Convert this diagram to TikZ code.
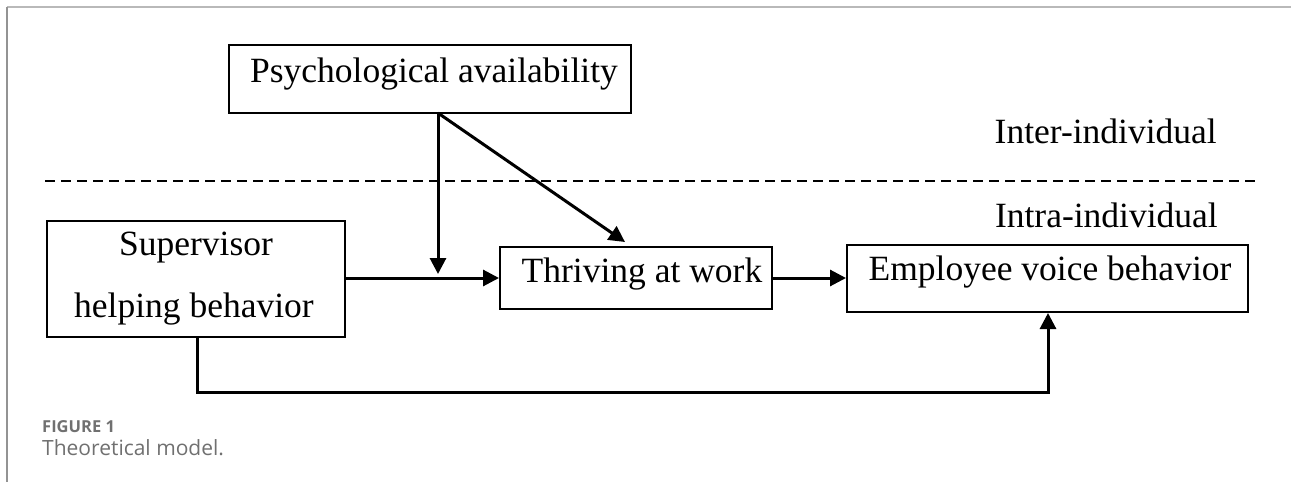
\documentclass[tikz,border=0pt]{standalone}
\usepackage{fontspec}
\setmainfont{Liberation Serif}
\newfontfamily\capfont{Open Sans}
\usetikzlibrary{arrows.meta}
\definecolor{capgray}{HTML}{707070}
\tikzset{
  box/.style={draw=black, line width=2pt, rectangle, inner sep=0pt},
  lbl/.style={inner sep=0pt, anchor=base, font=\fontsize{35.5}{40}\selectfont},
  arr/.style={line width=3pt, -{Triangle[length=16pt,width=16pt]}},
}
\begin{document}
\begin{tikzpicture}[x=1pt,y=-1pt]
\useasboundingbox (0,0) rectangle (1291,482);
% frame
\draw[line width=2pt, gray!55] (7,7) -- (1291,7);
\draw[line width=2pt, gray!85] (7,7) -- (7,482);
% boxes
\node[box, minimum width=402pt, minimum height=68pt] (psych) at (430,79) {};
\node[box, minimum width=298pt, minimum height=116pt] (sup) at (196,279) {};
\node[box, minimum width=272pt, minimum height=62pt] (thr) at (636,278) {};
\node[box, minimum width=401pt, minimum height=67pt] (emp) at (1047.5,278.5) {};
% texts
\node[lbl] (psycht) at (434,82) {Psychological availability};
\node[lbl] (supt1) at (196,255) {Supervisor};
\node[lbl] (supt2) at (194,317) {helping behavior};
\node[lbl] (thrt) at (642,282) {Thriving at work};
\node[lbl] (empt) at (1050,280) {Employee voice behavior};
\node[lbl, anchor=base east] (inter) at (1217,143) {Inter-individual};
\node[lbl, anchor=base east] (intra) at (1218,227) {Intra-individual};
% dashed separator
\coordinate (dl) at (45,181);
\coordinate (dr) at (1255,181);
\draw[line width=2.2pt, dash pattern=on 10pt off 6pt] (dl) -- (dr);
% connectors
\coordinate (pv) at (438,113);
\coordinate (modv) at (438,274);
\coordinate (modd) at (625,242);
\coordinate (low) at (620,392);
\draw[arr] (sup.east |- thr.west) -- (thr.west);
\draw[arr] (thr.east) -- (thr.east -| emp.west);
\draw[arr] (pv) -- (modv);
\draw[arr] (pv) -- (modd);
\draw[arr] ([xshift=1pt]sup.south) |- (low) -| ([xshift=0.5pt]emp.south);
% caption
\node[inner sep=0pt, anchor=base west, text=capgray, font=\capfont\bfseries\fontsize{16.5}{18}\selectfont] (fig) at (42,432) {FIGURE 1};
\node[inner sep=0pt, anchor=base west, text=capgray, font=\capfont\fontsize{21}{24}\selectfont] (capt) at (42,455) {Theoretical model.};
\end{tikzpicture}
\end{document}
